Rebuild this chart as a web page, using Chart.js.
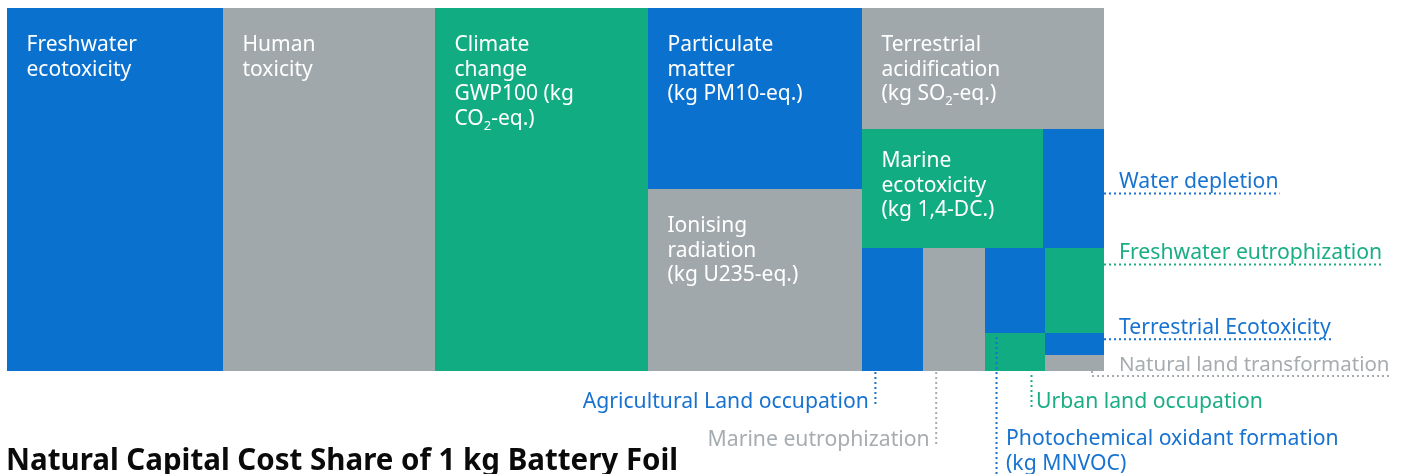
<!DOCTYPE html>
<html>
<head>
<meta charset="utf-8">
<script src="https://cdn.jsdelivr.net/npm/chart.js@4.4.1/dist/chart.umd.min.js"></script>
<style>
html,body{margin:0;padding:0;background:#ffffff;overflow:hidden}
#wrap{position:relative;width:1406px;height:474px}
</style>
</head>
<body>
<div id="wrap"><canvas id="c" width="1406" height="474"></canvas></div>
<script>
// ---------- data ----------
const categories = [
  "Freshwater ecotoxicity",
  "Human toxicity",
  "Climate change GWP100 (kg CO2-eq.)",
  "Particulate matter (kg PM10-eq.)",
  "Ionising radiation (kg U235-eq.)",
  "Terrestrial acidification (kg SO2-eq.)",
  "Marine ecotoxicity (kg 1,4-DC.)",
  "Water depletion",
  "Agricultural Land occupation",
  "Marine eutrophization",
  "Photochemical oxidant formation (kg MNVOC)",
  "Urban land occupation",
  "Freshwater eutrophization",
  "Terrestrial Ecotoxicity",
  "Natural land transformation"
];
// share of natural capital cost, %
const costShare = [19.69, 19.33, 19.42, 9.73, 9.78, 7.35, 5.45, 1.84, 1.88, 1.93, 1.26, 0.57, 1.26, 0.33, 0.24];
const colorGroup = ["blue","gray","green","blue","gray","gray","green","blue","blue","gray","blue","green","green","blue","gray"];
// labels written inside the large cells ("_x" = subscript)
const cellLabelLines = [
  ["Freshwater","ecotoxicity"],
  ["Human","toxicity"],
  ["Climate","change","GWP100 (kg","CO_2-eq.)"],
  ["Particulate","matter","(kg PM10-eq.)"],
  ["Ionising","radiation","(kg U235-eq.)"],
  ["Terrestrial","acidification","(kg SO_2-eq.)"],
  ["Marine","ecotoxicity","(kg 1,4-DC.)"],
  null,null,null,null,null,null,null,null
];
// labels written outside the small cells
const outsideLabelLines = [
  null,null,null,null,null,null,null,
  ["Water depletion"],
  ["Agricultural Land occupation"],
  ["Marine eutrophization"],
  ["Photochemical oxidant formation","(kg MNVOC)"],
  ["Urban land occupation"],
  ["Freshwater eutrophization"],
  ["Terrestrial Ecotoxicity"],
  ["Natural land transformation"]
];
const chartTitle = "Natural Capital Cost Share of 1 kg Battery Foil";

// ---------- styles ----------
const FILL = {blue:"#0b71ce", gray:"#a1a8ab", green:"#12ac82"};
const TEXT = {blue:"#1873d0", gray:"#a6acaf", green:"#1bae85"};
const FONT = "'Noto Sans', 'Open Sans', sans-serif";
const IN_SIZE = 21, OUT_SIZE = 21.2, TITLE_SIZE = 29.5;
// placement of leader lines / outside labels (layout only)
const outsidePlacement = {
  7:  {kind:"right", dy:64.5},
  12: {kind:"right", dy:16.6},
  13: {kind:"right", dy:6.2},
  14: {kind:"rightBelow", stub:12, dy:5, size:20.5},
  8:  {kind:"downLeft", dx:13.4, yEnd:407},
  9:  {kind:"downLeft", dx:13.2, yEnd:445},
  11: {kind:"downRight", dx:46.5, start:0, yEnd:407, gap:4.5, base:[407.7]},
  10: {kind:"downRight", dx:11.5, start:0, yEnd:476, gap:9.5, base:[445,470]}
};
const insideTopOffset = {6:37.8};

// ---------- squarified layout (computed in the chart-area aspect) ----------
function squarify(values, W, H) {
  const total = values.reduce((a, b) => a + b, 0);
  const items = values.map((v, i) => ({i, a: v / total * W * H}));
  const rects = new Array(values.length);
  let x = 0, y = 0, w = W, h = H, k = 0, prevHoriz = null;
  const worst = (row, side) => {
    const s = row.reduce((a, r) => a + r.a, 0), t = s / side;
    let m = 0;
    for (const r of row) { const l = r.a / t; m = Math.max(m, l / t, t / l); }
    return m;
  };
  while (k < items.length) {
    const asp = Math.max(w, h) / Math.min(w, h);
    const horiz = (prevHoriz !== null && asp < 1.2) ? prevHoriz : (w < h);
    const side = horiz ? w : h;
    const rest = items.slice(k);
    let row;
    if (rest.length <= 2) row = rest;
    else {
      row = [rest[0]];
      while (row.length < rest.length) {
        const nr = row.concat(rest[row.length]);
        if (worst(nr, side) < worst(row, side)) row = nr; else break;
      }
    }
    const s = row.reduce((a, r) => a + r.a, 0), t = s / side;
    let off = 0;
    for (const r of row) {
      const l = r.a / t;
      rects[r.i] = horiz ? {x: x + off, y: y, w: l, h: t} : {x: x, y: y + off, w: t, h: l};
      off += l;
    }
    if (horiz) { y += t; h -= t; } else { x += t; w -= t; }
    prevHoriz = horiz; k += row.length;
  }
  return rects;
}

function drawRich(ctx, str, x, y, size) {
  const parts = str.split(/_(\w)/);
  let cx = x;
  parts.forEach((p, idx) => {
    if (!p) return;
    if (idx % 2 === 1) {
      ctx.font = `${Math.round(size * 0.62)}px ${FONT}`;
      ctx.fillText(p, cx, y + 5);
    } else {
      ctx.font = `${size}px ${FONT}`;
      ctx.fillText(p, cx, y);
    }
    cx += ctx.measureText(p).width;
  });
}

function dotted(ctx, color, x1, y1, x2, y2) {
  ctx.save();
  ctx.strokeStyle = color;
  ctx.lineWidth = 2;
  ctx.setLineDash([2, 3]);
  ctx.beginPath();
  ctx.moveTo(x1, y1); ctx.lineTo(x2, y2);
  ctx.stroke();
  ctx.restore();
}

const treemapPlugin = {
  id: "treemapCells",
  afterDatasetsDraw(chart) {
    const ctx = chart.ctx, xs = chart.scales.x, ys = chart.scales.y, ca = chart.chartArea;
    const aspect = ca.width / ca.height;
    const vals = chart.data.datasets[0].shares;
    const rects = squarify(vals, aspect, 1);
    const cells = rects.map(r => {
      const l = Math.round(xs.getPixelForValue(r.x / aspect));
      const rr = Math.round(xs.getPixelForValue((r.x + r.w) / aspect));
      const t = Math.round(ys.getPixelForValue(r.y));
      const b = Math.round(ys.getPixelForValue(r.y + r.h));
      return {left: l, right: rr, top: t, bottom: b};
    });
    ctx.save();
    cells.forEach((c, i) => {
      ctx.fillStyle = FILL[colorGroup[i]];
      ctx.fillRect(c.left, c.top, c.right - c.left, c.bottom - c.top);
    });
    // inside labels
    ctx.fillStyle = "#ffffff";
    ctx.textBaseline = "alphabetic";
    ctx.textAlign = "left";
    cells.forEach((c, i) => {
      const lines = cellLabelLines[i];
      if (!lines) return;
      const off = insideTopOffset[i] !== undefined ? insideTopOffset[i] : 42.7;
      lines.forEach((ln, j) => drawRich(ctx, ln, c.left + 19.5, c.top + off + j * 24.8, IN_SIZE));
    });
    // outside labels with dotted leaders
    cells.forEach((c, i) => {
      const lines = outsideLabelLines[i];
      const p = outsidePlacement[i];
      if (!lines || !p) return;
      const col = TEXT[colorGroup[i]];
      ctx.font = `${p.size || OUT_SIZE}px ${FONT}`;
      const tw = ctx.measureText(lines[0]).width;
      ctx.fillStyle = col;
      if (p.kind === "right") {
        const ly = c.top + p.dy;
        const tx = c.right + 15;
        dotted(ctx, col, c.right, ly, tx + tw + 1, ly);
        ctx.textAlign = "left";
        ctx.fillText(lines[0], tx, ly - 5.5);
      } else if (p.kind === "rightBelow") {
        const ly = c.bottom + p.dy;
        const sx = c.right - p.stub;
        const tx = c.right + 15;
        dotted(ctx, col, sx, c.bottom, sx, ly);
        dotted(ctx, col, sx, ly, tx + tw + 1, ly);
        ctx.textAlign = "left";
        ctx.fillText(lines[0], tx, ly - 5);
      } else if (p.kind === "downLeft") {
        const lx = c.left + p.dx;
        dotted(ctx, col, lx, c.bottom + 1, lx, p.yEnd);
        ctx.textAlign = "right";
        ctx.fillText(lines[0], lx - 6.5, p.yEnd + 0.7);
      } else if (p.kind === "downRight") {
        const lx = c.left + p.dx;
        dotted(ctx, col, lx, c.bottom + 1 + p.start + 3, lx, p.yEnd);
        ctx.textAlign = "left";
        lines.forEach((ln, j) => ctx.fillText(ln, lx + p.gap, p.base[j]));
      }
    });
    // title
    ctx.textAlign = "left";
    ctx.fillStyle = "#0a0a0a";
    ctx.font = `bold ${TITLE_SIZE}px ${FONT}`;
    ctx.fillText(chartTitle, 6, 469.5);
    ctx.restore();
  }
};

new Chart(document.getElementById("c").getContext("2d"), {
  type: "scatter",
  data: {
    labels: categories,
    datasets: [{label: "Cost share (%)", data: [], shares: costShare, pointRadius: 0}]
  },
  options: {
    responsive: false,
    devicePixelRatio: 1,
    animation: false,
    events: [],
    layout: {padding: {left: 7, top: 8, right: 302, bottom: 103}},
    scales: {
      x: {type: "linear", min: 0, max: 1, display: false},
      y: {type: "linear", min: 0, max: 1, reverse: true, display: false}
    },
    plugins: {legend: {display: false}, tooltip: {enabled: false}, title: {display: false}}
  },
  plugins: [treemapPlugin]
});
</script>
</body>
</html>
